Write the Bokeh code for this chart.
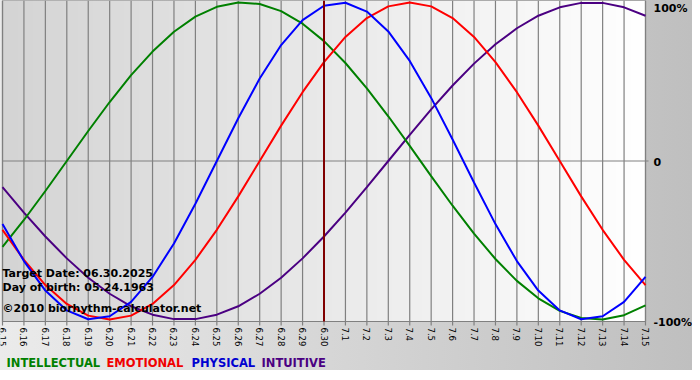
import math
import numpy as np
from bokeh.plotting import figure
from bokeh.models import Range1d, Label
from bokeh.core.properties import value
from bokeh.embed import file_html
from bokeh.resources import INLINE

DATES = ["6.15", "6.16", "6.17", "6.18", "6.19", "6.20", "6.21", "6.22", "6.23",
         "6.24", "6.25", "6.26", "6.27", "6.28", "6.29", "6.30", "7.1", "7.2",
         "7.3", "7.4", "7.5", "7.6", "7.7", "7.8", "7.9", "7.10", "7.11", "7.12",
         "7.13", "7.14", "7.15"]

INTELLECTUAL = [-0.541, -0.372, -0.189, 0.000, 0.189, 0.372, 0.541, 0.690, 0.815,
                0.910, 0.972, 0.999, 0.990, 0.945, 0.866, 0.756, 0.618, 0.458,
                0.282, 0.095, -0.095, -0.282, -0.458, -0.618, -0.756, -0.866,
                -0.945, -0.990, -0.999, -0.972, -0.910]
EMOTIONAL = [-0.434, -0.623, -0.782, -0.901, -0.975, -1.000, -0.975, -0.901,
             -0.782, -0.623, -0.434, -0.223, 0.000, 0.223, 0.434, 0.623, 0.782,
             0.901, 0.975, 1.000, 0.975, 0.901, 0.782, 0.623, 0.434, 0.223,
             0.000, -0.223, -0.434, -0.623, -0.782]
PHYSICAL = [-0.398, -0.631, -0.817, -0.942, -0.998, -0.979, -0.888, -0.731,
            -0.520, -0.270, 0.000, 0.270, 0.520, 0.731, 0.888, 0.979, 0.998,
            0.942, 0.817, 0.631, 0.398, 0.136, -0.136, -0.398, -0.631, -0.817,
            -0.942, -0.998, -0.979, -0.888, -0.731]
INTUITIVE = [-0.165, -0.325, -0.476, -0.614, -0.736, -0.837, -0.916, -0.969,
             -0.997, -0.997, -0.969, -0.916, -0.837, -0.736, -0.614, -0.476,
             -0.325, -0.165, 0.000, 0.165, 0.325, 0.476, 0.614, 0.736, 0.837,
             0.916, 0.969, 0.997, 0.997, 0.969, 0.916]

TARGET_INDEX = 15
TARGET_TEXT = "Target Date: 06.30.2025"
BIRTH_TEXT = "Day of birth: 05.24.1963"
COPY_TEXT = "\u00a92010 biorhythm-calculator.net"
LEGEND = [("INTELLECTUAL", "#008000"), ("EMOTIONAL", "#f00000"),
          ("PHYSICAL", "#0000d0"), ("INTUITIVE", "#4b0082")]
Y_LABELS = ["100%", "0", "-100%"]

FONT = "DejaVu Sans"

# layout (pixels inside the figure)
W, H = 692, 370
PL, PR = 2, 645          # plot area left / right
PT, PB = 0, 321          # plot area top / bottom (from top)
YLO, YHI = -1.012, 1.012

xs = list(range(len(DATES)))
n = len(DATES) - 1
ppx = (PR - PL) / n
ppy = (PB - PT) / (YHI - YLO)
xmin, xmax = -PL / ppx, n + (W - PR) / ppx
ymin, ymax = YLO - (H - PB) / ppy, YHI + PT / ppy

p = figure(width=W, height=H, x_range=Range1d(xmin, xmax), y_range=Range1d(ymin, ymax),
           output_backend="svg", toolbar_location=None,
           x_axis_location=None, y_axis_location=None, min_border=0,
           background_fill_alpha=0, border_fill_alpha=0, outline_line_color=None,
           styles={"background": "linear-gradient(to right, #ebebeb, #bfbfbf)"})
p.xgrid.visible = False
p.ygrid.visible = False

# plot-area gradient (grey to white)
g = np.linspace(0.0, 1.0, 256)
c0 = 212
vals = (c0 + (255 - c0) * g).astype(np.uint32)
img = np.empty((1, 256), dtype=np.uint32)
img[0, :] = (255 << 24) | (vals << 16) | (vals << 8) | vals
p.image_rgba(image=[img], x=0, y=YLO, dw=n, dh=YHI - YLO)

# day grid lines with short ticks below the plot area
tick = 4 / ppy
p.segment(x0=xs, y0=[YLO - tick] * len(xs), x1=xs, y1=[YHI] * len(xs),
          line_color="#808080", line_width=1.2)
# zero line
p.segment(x0=[0], y0=[0], x1=[n + 3 / ppx], y1=[0], line_color="#808080", line_width=1.2)
# plot-area border
p.quad(left=[0], right=[n], bottom=[YLO], top=[YHI], fill_color=None,
       line_color="#808080", line_width=1.2)

p.line(xs, INTUITIVE, line_color="#4b0082", line_width=2)
p.line(xs, INTELLECTUAL, line_color="#008000", line_width=2)
p.line(xs, EMOTIONAL, line_color="#ff0000", line_width=2)
p.line(xs, PHYSICAL, line_color="#0000ff", line_width=2)

# target date
p.segment(x0=[TARGET_INDEX], y0=[YLO], x1=[TARGET_INDEX], y1=[YHI],
          line_color="#800000", line_width=2)

# date tick labels
p.text(x=xs, y=[YLO] * len(xs), text=DATES, angle=-math.pi / 2,
       text_align="left", text_baseline="middle", y_offset=6,
       text_font=value(FONT), text_font_size=value("8.5px"), text_color="#000000")

def from_top(t):
    return H - t

for txt, t in [(TARGET_TEXT, 273), (BIRTH_TEXT, 287), (COPY_TEXT, 308)]:
    p.add_layout(Label(x=2, y=from_top(t), x_units="screen", y_units="screen", text=txt,
                       text_font=FONT, text_font_style="bold", text_font_size="11px",
                       text_color="#000000", text_baseline="alphabetic"))

for txt, t in zip(Y_LABELS, [8, (PT + PB) / 2 + 1, PB + 1]):
    p.add_layout(Label(x=PR + 8, y=from_top(t), x_units="screen", y_units="screen",
                       text=txt, text_font=FONT, text_font_style="bold",
                       text_font_size="11px", text_color="#000000",
                       text_baseline="middle"))

leg_x = [6, 106, 191, 261]
for (txt, col), lx in zip(LEGEND, leg_x):
    p.add_layout(Label(x=lx, y=from_top(362), x_units="screen", y_units="screen",
                       text=txt, text_font=FONT, text_font_style="bold",
                       text_font_size="11.5px", text_color=col,
                       text_baseline="middle"))

open("out.html", "w").write(file_html(p, INLINE))
